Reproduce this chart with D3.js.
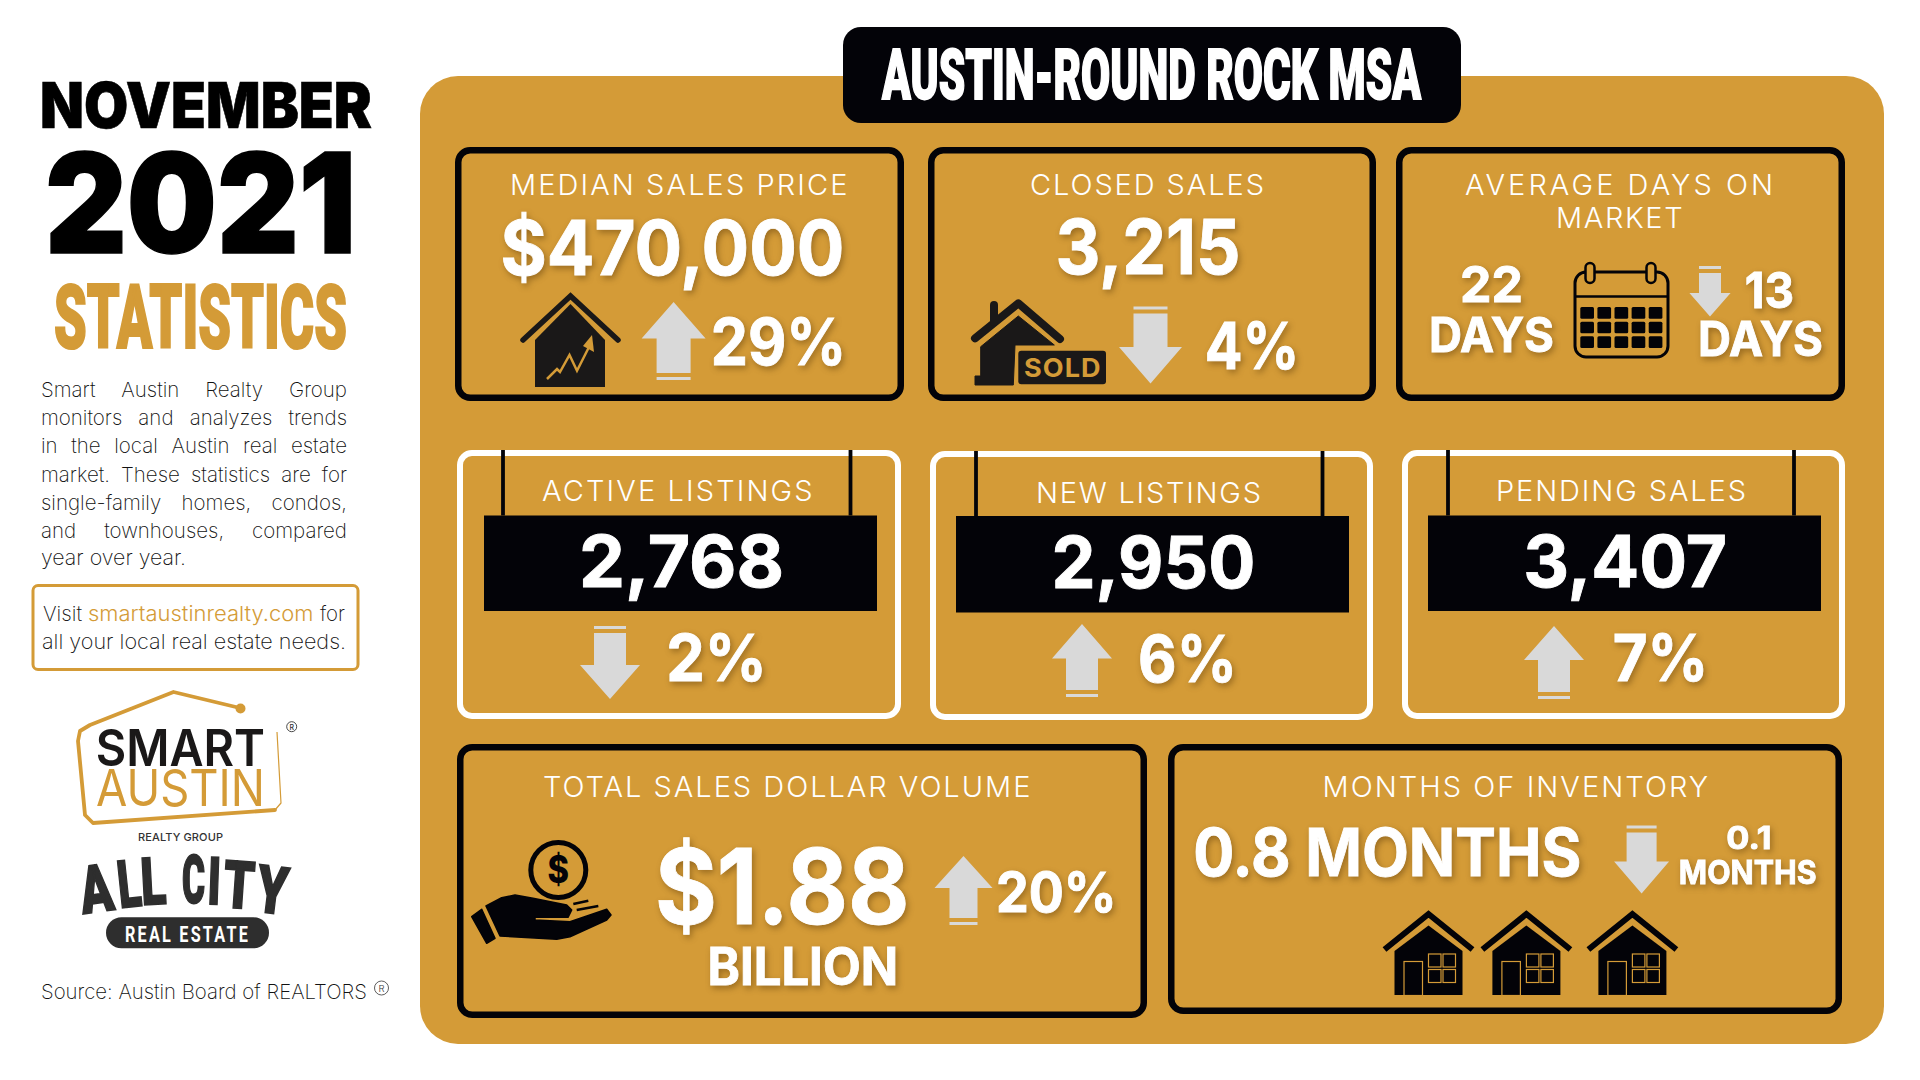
<!DOCTYPE html>
<html><head><meta charset="utf-8">
<script src="https://cdn.jsdelivr.net/npm/d3@7"></script>
<style>html,body{margin:0;padding:0;background:#fff}svg{display:block}</style>
</head><body><svg id="c" width="1920" height="1080"></svg>
<script>
// ---------- chart content ----------
const period = ["NOVEMBER", "2021", "STATISTICS"];
const regionTitle = "AUSTIN-ROUND ROCK MSA";
const metricNames = ["MEDIAN SALES PRICE","CLOSED SALES","ACTIVE LISTINGS","NEW LISTINGS","PENDING SALES","TOTAL SALES DOLLAR VOLUME","MONTHS OF INVENTORY"];
const metricValues = ["$470,000","3,215","2,768","2,950","3,407","$1.88","0.8 MONTHS"];
const metricChanges = ["29%","4%","2%","6%","7%","20%"];
const arrowDirections = ["up","down","down","down","up","up","up","down"];
const domLabel = ["AVERAGE DAYS ON","MARKET"];
const domValues = ["22","DAYS","13","DAYS"];
const extraText = ["BILLION","0.1","MONTHS"];
const bodyLines = ["Smart Austin Realty Group","monitors and analyzes trends","in the local Austin real estate","market. These statistics are for","single-family homes, condos,","and townhouses, compared","year over year."];
const visitText = ["Visit","smartaustinrealty.com","for","all your local real estate needs."];
const sourceText = "Source: Austin Board of REALTORS";
const allCityLetters = ["A","L","L","C","I","T","Y"];

// ---------- layout and style (separate from the content) ----------
const GOLD="#D49B37", BLACK="#030308", GREY="#D9D9D9", INK="#1a1818", DARK="#2e2e2e";
const SANS="Inter, 'Open Sans', sans-serif", HEAVY="Roboto, 'Liberation Sans', sans-serif";
const BODYW=250;
const svg=d3.select("#c");
const line=d3.line();
const poly=p=>line(p)+"Z";

function T(g,s,x1,x2,y,size,o={}){
  const pad=o.pad?size*.02:0;
  const t=g.append("text").text(s).attr("x",x1-pad).attr("y",y)
    .attr("font-size",size).attr("font-family",o.f||SANS).attr("font-weight",o.w||700)
    .attr("fill",o.c||"#fff");
  if(o.ls) t.attr("letter-spacing",o.ls);
  if(x2!=null) t.attr("textLength",x2-x1+2*pad).attr("lengthAdjust",o.spacing?"spacing":"spacingAndGlyphs");
  if(o.sw) t.attr("stroke",o.c||"#fff").attr("stroke-width",o.sw);
  return t;
}
function justify(t,w){
  const n=t.text().trim().split(/\s+/).length-1;
  const nat=t.node().getComputedTextLength();
  if(n>0) t.attr("word-spacing",(w-nat)/n);
}

// left column
const left=svg.append("g");
T(left,period[0],40,372,128,63,{w:900,c:"#000",sw:.6});
T(left,period[1],45,356,253,139,{w:900,c:"#000",sw:1.5});
T(left,period[2],54,347,348,89,{f:HEAVY,w:900,c:GOLD,sw:2.2});
const bodyBase=[397,425,453,482,510,538,565];
bodyLines.forEach((s,i)=>{
  const t=T(left,s,41,null,bodyBase[i],20.5,{w:BODYW,c:"#111"});
  if(i<6) justify(t,306); else t.attr("textLength",145).attr("lengthAdjust","spacingAndGlyphs");
});
left.append("rect").attr("x",33).attr("y",585.5).attr("width",325).attr("height",84).attr("rx",5)
  .attr("fill","#fff").attr("stroke",GOLD).attr("stroke-width",3);
T(left,visitText[0],43,82,621,20.5,{w:BODYW,c:"#111"});
T(left,visitText[1],88,313.5,621,20.5,{w:300,c:GOLD});
T(left,visitText[2],320,345,621,20.5,{w:BODYW,c:"#111"});
T(left,visitText[3],42,346,649,20.5,{w:BODYW,c:"#111"});

// smart austin logo
left.append("path").attr("d",line([[240,708],[173.5,692],[90,725],[80,731],[78,741],[85,815],[93,823],[275,810]]))
  .attr("fill","none").attr("stroke",GOLD).attr("stroke-width",3.8).attr("stroke-linecap","round").attr("stroke-linejoin","round");
left.append("path").attr("d",line([[275,810],[281,803],[277,732]]))
  .attr("fill","none").attr("stroke",GOLD).attr("stroke-width",1.2).attr("stroke-linejoin","round");
left.append("circle").attr("cx",240.5).attr("cy",708.5).attr("r",5).attr("fill",GOLD);
T(left,"SMART",96.7,264,766,51,{w:600,c:INK,pad:1});
T(left,"AUSTIN",97,264,806,51,{w:400,c:GOLD,pad:1});
T(left,"REALTY GROUP",138,223,840.7,11,{w:500,c:"#333",spacing:true});
left.append("circle").attr("cx",291.7).attr("cy",726.7).attr("r",5).attr("fill","none").attr("stroke","#333").attr("stroke-width",.9);
T(left,"R",289.4,null,729.6,7,{w:500,c:"#333"});

// all city logo
const letterX=[83,120,142,182,207,222,254], letterW=[33,23,25,23,13,31,31], letterY=[914,908,905,903,904,907,911], letterRot=[-8,-6,-3,0,2,4,7];
allCityLetters.forEach((s,i)=>{
  left.append("text").text(s).attr("transform",`translate(${letterX[i]},${letterY[i]}) rotate(${letterRot[i]})`)
    .attr("textLength",letterW[i]).attr("lengthAdjust","spacingAndGlyphs")
    .attr("font-family",HEAVY).attr("font-weight",900).attr("font-size",66).attr("fill",DARK).attr("stroke",DARK).attr("stroke-width",1.8);
});
left.append("rect").attr("x",106).attr("y",917.3).attr("width",163).attr("height",31).attr("rx",15.5).attr("fill",DARK);
T(left,"REAL ESTATE",125,250,941.7,22,{f:HEAVY,w:700,ls:3});

T(left,sourceText,41,367,998.5,20.5,{w:BODYW,c:"#111"});
left.append("circle").attr("cx",381.5).attr("cy",988).attr("r",7).attr("fill","none").attr("stroke","#333").attr("stroke-width",.8);
T(left,"R",378.5,null,992,9.5,{w:300,c:"#333"});

// main panel and title
svg.append("rect").attr("x",420).attr("y",76).attr("width",1464).attr("height",968).attr("rx",38).attr("fill",GOLD);
svg.append("rect").attr("x",843).attr("y",27).attr("width",618).attr("height",96).attr("rx",18).attr("fill",BLACK);
T(svg,regionTitle,882,1421,99,70,{f:HEAVY,w:900,sw:1.8});

// cards
const cardBoxes=[
 [455,147,449,254,BLACK,6.5],[928,147,448,254,BLACK,6.5],[1396,147,449,254,BLACK,6.5],
 [457,450,444,269,"#fff",6],[930,451,443,269,"#fff",6],[1402,450,443,269,"#fff",6],
 [457,744,690,274,BLACK,6.5],[1168,744,674,270,BLACK,6.5]];
svg.append("g").selectAll("rect").data(cardBoxes).join("rect")
  .attr("x",d=>d[0]+d[5]/2).attr("y",d=>d[1]+d[5]/2).attr("width",d=>d[2]-d[5]).attr("height",d=>d[3]-d[5])
  .attr("rx",12).attr("fill","none").attr("stroke",d=>d[4]).attr("stroke-width",d=>d[5]);

// hanging signs
const signs=[[484,515.5,393,95.5,503,850.5,450],[956,516,393,96.5,976,1322.5,451],[1428,515.5,393,95.5,1448,1794,450]];
const sg=svg.append("g");
signs.forEach(s=>{
  sg.append("rect").attr("x",s[0]).attr("y",s[1]).attr("width",s[2]).attr("height",s[3]).attr("fill",BLACK);
  [s[4],s[5]].forEach(x=>sg.append("line").attr("x1",x).attr("x2",x).attr("y1",s[6]).attr("y2",s[1]).attr("stroke",BLACK).attr("stroke-width",3.8));
});

// labels
const labelSlots=[[510,847.5,194.5],[1030,1264,195],[542,812.6,501],[1036,1261,503],[1496,1746,501],[543,1030.4,797],[1322.5,1708,797]];
const lab=svg.append("g");
metricNames.forEach((s,i)=>{const b=labelSlots[i];T(lab,s,b[0],b[1],b[2],29,{w:300,spacing:true});});
T(lab,domLabel[0],1465,1773,194.5,29,{w:300,spacing:true});
T(lab,domLabel[1],1556,1682.6,228,29,{w:300,spacing:true});

// arrows
const arrowSlots=[[673.6,302,380,32,17,36.6],[1150.5,306.5,383.4,31.5,17,36.4],[1710,266,316.5,20.6,11,23.5],[610,626,699,30,16,34],
 [1082,624,697,30,16,34.6],[1554,626,699,30,16,34],[963.5,856,925,29,14,32],[1641.6,825.5,893.4,27.5,15,32]];
const ag=svg.append("g").attr("fill",GREY);
arrowDirections.forEach((dir,i)=>{
  const [cx,top,bot,hw,sw,head]=arrowSlots[i];
  const tip=dir==="up"?top:bot, s=dir==="up"?1:-1, barFar=dir==="up"?bot:top;
  const base=tip+s*head, barNear=barFar-s*3, shaftEnd=barFar-s*7;
  ag.append("path").attr("d",poly([[cx,tip],[cx+hw,base],[cx+sw,base],[cx+sw,shaftEnd],[cx-sw,shaftEnd],[cx-sw,base],[cx-hw,base]]));
  ag.append("path").attr("d",poly([[cx-sw,barFar],[cx+sw,barFar],[cx+sw,barNear],[cx-sw,barNear]]));
});

// numbers with soft shadow
const num=svg.append("g").style("filter","drop-shadow(2px 3px 3px rgba(70,40,0,.4))");
const N={pad:1,sw:.9};
const valueSlots=[[502,843,275,76],[1057,1239,274,76],null,null,null,[657,907.5,923.5,105],[1194.5,1580,876,66]];
metricValues.forEach((s,i)=>{const b=valueSlots[i];if(b)T(num,s,b[0],b[1],b[2],b[3],N);});
const changeSlots=[[712,845,365,65],[1206,1298,369,65],[667.5,765.5,680.7,65],[1139.4,1235.6,681.7,65],[1614,1707,680.7,65],[997,1115.5,912,55]];
metricChanges.forEach((s,i)=>{const b=changeSlots[i];T(num,s,b[0],b[1],b[2],b[3],N);});
const domSlots=[[1461,1522,302.4,50],[1430,1553,352,48],[1745.7,1793,307.6,50],[1699,1822,356,48]];
domValues.forEach((s,i)=>{const b=domSlots[i];T(num,s,b[0],b[1],b[2],b[3],N);});
const extraSlots=[[708.5,897,985,52],[1727,1771,848.6,31],[1679.5,1816,884,33]];
extraText.forEach((s,i)=>{const b=extraSlots[i];T(num,s,b[0],b[1],b[2],b[3],N);});
const signValueSlots=[[580.5,782.6,586.5],[1053,1254,587.6],[1524.6,1725.5,586.5]];
[2,3,4].forEach((k,i)=>{const b=signValueSlots[i];T(svg,metricValues[k],b[0],b[1],b[2],72,N);});

// icon: house with chart
const ic=svg.append("g");
ic.append("path").attr("d",line([[523,340],[570.5,296],[618,340]])).attr("fill","none").attr("stroke",INK).attr("stroke-width",5.5).attr("stroke-linecap","round");
ic.append("path").attr("d",poly([[570.5,304],[605,340],[605,387],[535,387],[535,340]])).attr("fill",INK);
ic.append("path").attr("d",line([[547,379],[557,369],[560,372],[569.5,355],[577,370.7],[590,345]])).attr("fill","none").attr("stroke",GOLD).attr("stroke-width",2.5);
ic.append("path").attr("d",poly([[592,335],[594,352],[583,346]])).attr("fill",GOLD);

// icon: sold house
ic.append("path").attr("d",line([[975,338.3],[1018.3,303.3],[1060,339]])).attr("fill","none").attr("stroke",INK).attr("stroke-width",8).attr("stroke-linecap","round").attr("stroke-linejoin","round");
ic.append("path").attr("d",line([[994,305],[994,322]])).attr("stroke",INK).attr("stroke-width",8).attr("stroke-linecap","round");
ic.append("path").attr("d",poly([[1018.3,316],[1054.3,345],[1015,345],[1013.3,385],[975,385],[975,376],[980.7,376],[980.7,346.7]])).attr("fill",INK).attr("stroke",INK).attr("stroke-width",1).attr("stroke-linejoin","round");
ic.append("rect").attr("x",1018.3).attr("y",350.7).attr("width",87.7).attr("height",33.5).attr("rx",3).attr("fill",INK);
T(ic,"SOLD",1024,1101.7,376.7,25.5,{c:GOLD,ls:1});

// icon: calendar
ic.append("rect").attr("x",1575).attr("y",272).attr("width",93).attr("height",85).attr("rx",11).attr("fill","none").attr("stroke",BLACK).attr("stroke-width",3);
ic.append("line").attr("x1",1575).attr("x2",1668).attr("y1",296.5).attr("y2",296.5).attr("stroke",BLACK).attr("stroke-width",2.5);
[1590,1651].forEach(x=>ic.append("rect").attr("x",x-4.5).attr("y",263).attr("width",9).attr("height",20).attr("rx",4.5).attr("fill",GOLD).attr("stroke",BLACK).attr("stroke-width",2.5));
const calX=d3.scaleBand().domain(d3.range(5)).range([1580.3,1662.4]).paddingInner(.2);
const calY=d3.scaleBand().domain(d3.range(3)).range([307,348]).paddingInner(.2);
d3.range(5).forEach(c=>d3.range(3).forEach(r=>ic.append("rect").attr("x",calX(c)).attr("y",calY(r)).attr("width",calX.bandwidth()).attr("height",calY.bandwidth()).attr("rx",1.5).attr("fill",BLACK)));

// icon: hand and coin
ic.append("circle").attr("cx",558.3).attr("cy",870).attr("r",27.5).attr("fill","none").attr("stroke",BLACK).attr("stroke-width",5);
T(ic,"$",547.5,569,883,38,{c:BLACK,w:800});
ic.append("path").attr("d",poly([[471.7,916.7],[481.7,909.3],[495,938.3],[486.7,943.3]])).attr("fill",BLACK).attr("stroke",BLACK).attr("stroke-linejoin","round").attr("stroke-width",1.5);
ic.append("path").attr("d",poly([[486,906],[501.7,897.7],[515,895],[533,898.3],[566.7,905],[571.7,910],[568,917.3],[535,917.3],[535,920],[570,921.7],[606.7,909.3],[611,915],[606.7,920],[570,936.7],[556.7,939.3],[500,936]])).attr("fill",BLACK).attr("stroke",BLACK).attr("stroke-linejoin","round").attr("stroke-width",1.5);
[[573.3,904,588.3,900.7],[576.7,910,598.3,906]].forEach(d=>ic.append("line").attr("x1",d[0]).attr("y1",d[1]).attr("x2",d[2]).attr("y2",d[3]).attr("stroke",BLACK).attr("stroke-width",2.5));

// icon: three houses
[1428.5,1526.4,1632.4].forEach(cx=>{
  ic.append("path").attr("d",line([[cx-44,949.5],[cx,914],[cx+44,949.5]])).attr("fill","none").attr("stroke",BLACK).attr("stroke-width",6);
  ic.append("path").attr("d",poly([[cx,925.5],[cx+34,951],[cx+34,995],[cx-34,995],[cx-34,951]])).attr("fill",BLACK);
  ic.append("rect").attr("x",cx-24.5).attr("y",961.5).attr("width",18.5).attr("height",34).attr("fill",BLACK).attr("stroke",GOLD).attr("stroke-width",1.2);
  [0,14.5].forEach(dx=>[954,969.5].forEach(y=>ic.append("rect").attr("x",cx+dx).attr("y",y).attr("width",12.5).attr("height",13).attr("fill",BLACK).attr("stroke",GOLD).attr("stroke-width",1.2)));
});
</script></body></html>
